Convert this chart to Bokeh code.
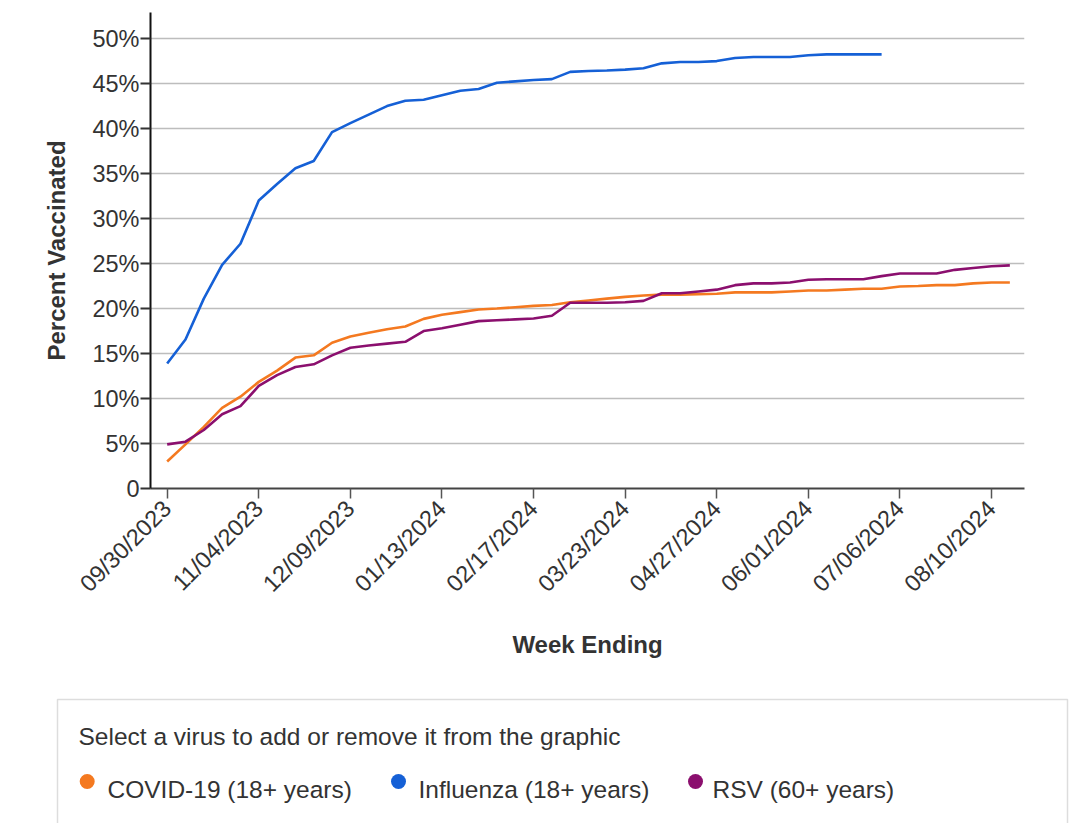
import math
import pandas as pd
from bokeh.plotting import figure
from bokeh.models import Range1d, FixedTicker, DatetimeTickFormatter
from bokeh.core.properties import value
from bokeh.embed import file_html
from bokeh.resources import INLINE

# ---------------- data ----------------
start_date = "2023-09-30"
n_weeks = 47
week_ending = pd.date_range(start_date, periods=n_weeks, freq="7D")

covid = [3.0, 4.9, 6.85, 8.95, 10.2, 11.85, 13.1, 14.55, 14.8, 16.2, 16.9, 17.3,
         17.7, 18.0, 18.85, 19.3, 19.6, 19.9, 20.0, 20.15, 20.3, 20.4, 20.7, 20.9,
         21.1, 21.3, 21.45, 21.55, 21.55, 21.6, 21.65, 21.8, 21.8, 21.8, 21.9, 22.0,
         22.0, 22.1, 22.2, 22.2, 22.45, 22.5, 22.6, 22.6, 22.8, 22.9, 22.9]

influenza = [13.9, 16.55, 21.1, 24.85, 27.2, 32.0, 33.85, 35.6, 36.4, 39.6, 40.6,
             41.55, 42.5, 43.1, 43.2, 43.7, 44.2, 44.4, 45.1, 45.25, 45.4, 45.5,
             46.3, 46.4, 46.45, 46.55, 46.7, 47.25, 47.4, 47.4, 47.5, 47.85, 47.95,
             47.95, 47.95, 48.15, 48.25, 48.25, 48.25, 48.25]

rsv = [4.9, 5.2, 6.5, 8.25, 9.15, 11.4, 12.6, 13.5, 13.8, 14.8, 15.65, 15.9, 16.1,
       16.3, 17.5, 17.8, 18.2, 18.6, 18.7, 18.8, 18.9, 19.2, 20.65, 20.65, 20.65,
       20.7, 20.85, 21.7, 21.7, 21.9, 22.1, 22.6, 22.8, 22.8, 22.9, 23.2, 23.25,
       23.25, 23.25, 23.6, 23.9, 23.9, 23.9, 24.3, 24.5, 24.7, 24.8]

tick_dates = ["09/30/2023", "11/04/2023", "12/09/2023", "01/13/2024", "02/17/2024",
              "03/23/2024", "04/27/2024", "06/01/2024", "07/06/2024", "08/10/2024"]
y_ticks = [0, 5, 10, 15, 20, 25, 30, 35, 40, 45, 50]
y_tick_labels = ["0", "5%", "10%", "15%", "20%", "25%", "30%", "35%", "40%", "45%", "50%"]

series_names = ["COVID-19 (18+ years)", "Influenza (18+ years)", "RSV (60+ years)"]
series_colors = ["#F47920", "#1560D6", "#8B0F6E"]
legend_title = "Select a virus to add or remove it from the graphic"

# ---------------- styling ----------------
FONT = "Liberation Sans"
TXT = "#333333"
FS = "23.5px"
LFS = "24.5px"

t0 = week_ending[0]
x_start = t0 - pd.Timedelta(days=7 * 0.91)
x_end = t0 + pd.Timedelta(days=7 * 46.8)

W = 1072
p = figure(width=W, height=696, frame_width=874, frame_height=476,
           x_axis_type="datetime", output_backend="svg", toolbar_location=None,
           min_border_left=150, min_border_top=12, min_border_bottom=208,
           min_border_right=W - 150 - 874)
p.x_range = Range1d(x_start, x_end)
p.y_range = Range1d(0, 52.9)
p.outline_line_color = None
p.background_fill_color = "white"
p.border_fill_color = "white"

for vals, col in zip([covid, influenza, rsv], series_colors):
    p.line(week_ending[:len(vals)], vals, line_color=col, line_width=2.6)

# x axis
tick_ms = [pd.Timestamp(pd.to_datetime(d, format="%m/%d/%Y")).value / 1e6 for d in tick_dates]
p.xaxis.ticker = FixedTicker(ticks=tick_ms)
fmt = "%m/%d/%Y"
p.xaxis.formatter = DatetimeTickFormatter(milliseconds=fmt, seconds=fmt, minsec=fmt,
                                          minutes=fmt, hourmin=fmt, hours=fmt, days=fmt,
                                          months=fmt, years=fmt)
p.xaxis.major_label_orientation = math.pi / 4
p.xaxis.axis_label = "Week Ending"
p.xaxis.axis_label_text_font = FONT
p.xaxis.axis_label_text_font_style = "bold"
p.xaxis.axis_label_text_font_size = "24px"
p.xaxis.axis_label_text_color = TXT
p.xaxis.axis_label_standoff = 22
p.xaxis.major_label_text_font = FONT
p.xaxis.major_label_text_font_size = FS
p.xaxis.major_label_text_color = TXT
p.xaxis.axis_line_color = "#444444"
p.xaxis.axis_line_width = 2
p.xaxis.major_tick_line_color = "#555555"
p.xaxis.major_tick_line_width = 1.5
p.xaxis.major_tick_out = 10
p.xaxis.major_tick_in = 0
p.xaxis.minor_tick_line_color = None
p.xaxis.major_label_standoff = 6

# y axis
p.yaxis.ticker = FixedTicker(ticks=y_ticks)
p.yaxis.major_label_overrides = {t: l for t, l in zip(y_ticks, y_tick_labels)}
p.yaxis.axis_label = "Percent Vaccinated"
p.yaxis.axis_label_text_font = FONT
p.yaxis.axis_label_text_font_style = "bold"
p.yaxis.axis_label_text_font_size = "24px"
p.yaxis.axis_label_text_color = TXT
p.yaxis.axis_label_standoff = 19
p.yaxis.major_label_text_font = FONT
p.yaxis.major_label_text_font_size = FS
p.yaxis.major_label_text_color = TXT
p.yaxis.axis_line_color = "#111111"
p.yaxis.axis_line_width = 2
p.yaxis.major_tick_line_color = "#333333"
p.yaxis.major_tick_line_width = 2
p.yaxis.major_tick_out = 10
p.yaxis.major_tick_in = 0
p.yaxis.minor_tick_line_color = None
p.yaxis.major_label_standoff = 1

p.xgrid.grid_line_color = None
p.ygrid.grid_line_color = "#bdbdbd"
p.ygrid.grid_line_width = 1.5

# ---------------- legend panel (separate root, page-pixel coordinates) ----------------
LH = 127
lg = figure(width=W, height=LH, output_backend="svg", toolbar_location=None,
            min_border=0, x_axis_type=None, y_axis_type=None)
lg.x_range = Range1d(0, W)
lg.y_range = Range1d(0, LH)
lg.outline_line_color = None
lg.grid.grid_line_color = None
lg.background_fill_color = "white"
lg.border_fill_color = "white"

lg.quad(left=[57], right=[1067], top=[LH - 3], bottom=[-20],
        fill_color="white", line_color="#dddddd", line_width=1.5)
lg.text(x=[78], y=[LH - 40], text=[legend_title], text_font=value(FONT),
        text_font_size=LFS, text_color=TXT, text_baseline="middle", text_align="left")

item_dot_x = [86.7, 398, 695]
item_text_x = [107, 418, 712]
lg.scatter(x=item_dot_x, y=[LH - 85] * 3, size=15, color=series_colors,
           line_color=None)
lg.text(x=item_text_x, y=[LH - 93] * 3, text=series_names, text_font=value(FONT),
        text_font_size=LFS, text_color=TXT, text_baseline="middle", text_align="left")

open("out.html", "w").write(file_html([p, lg], INLINE))
